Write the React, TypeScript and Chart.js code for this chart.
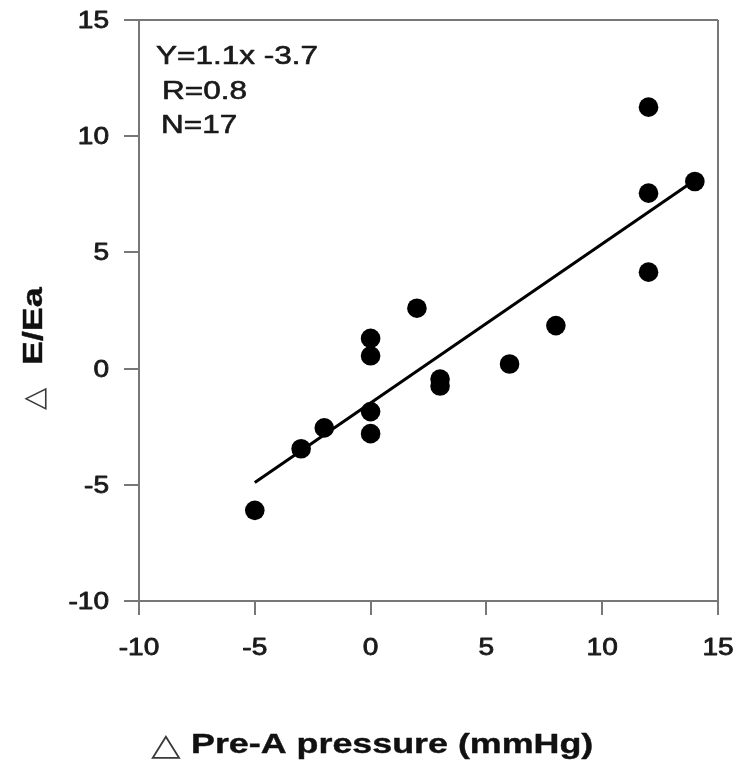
import React, { useEffect, useRef } from "react";
import { Chart, registerables } from "chart.js";

Chart.register(...registerables);

const pressureX = [-5, -3, -2, 0, 0, 0, 0, 2, 3, 3, 6, 8, 12, 12, 12, 14];
const eeaY = [-6.1, -3.45, -2.55, 1.3, 0.55, -1.85, -2.8, 2.6, -0.45, -0.75, 0.2, 1.85, 11.25, 7.55, 4.15, 8.05];
const regLineX = [-5, 13.7];
const regLineY = [-4.9, 7.9];
const xTicks = [-10, -5, 0, 5, 10, 15];
const yTicks = [-10, -5, 0, 5, 10, 15];
const annotationLines = ["Y=1.1x -3.7", "R=0.8", "N=17"];
const xTitleText = "Pre-A pressure (mmHg)";
const yTitleText = "E/Ea";
const deltaGlyph = "\u25B3";

const FONT = "'Liberation Sans', Arial, Helvetica, sans-serif";
const FRAME = "#777777";

function drawText(
  ctx: CanvasRenderingContext2D,
  text: string,
  x: number,
  y: number,
  font: string,
  align: CanvasTextAlign,
  color: string,
  sx: number,
  stroke = 0
) {
  ctx.save();
  ctx.translate(x, y);
  ctx.scale(sx, 1);
  ctx.font = font;
  ctx.fillStyle = color;
  ctx.textAlign = align;
  ctx.textBaseline = "alphabetic";
  ctx.fillText(text, 0, 0);
  if (stroke > 0) {
    ctx.strokeStyle = color;
    ctx.lineWidth = stroke;
    ctx.lineJoin = "round";
    ctx.strokeText(text, 0, 0);
  }
  ctx.restore();
}

const textPlugin = {
  id: "textPlugin",
  afterDraw(chart: any) {
    const ctx: CanvasRenderingContext2D = chart.ctx;
    const xs = chart.scales.x;
    const ys = chart.scales.y;
    const tickFont = `23px ${FONT}`;
    for (const v of xTicks) {
      drawText(ctx, String(v), xs.getPixelForValue(v), 655, tickFont, "center", "#1a1a1a", 1.22, 0.8);
    }
    for (const v of yTicks) {
      drawText(ctx, String(v), 109, ys.getPixelForValue(v) + 8, tickFont, "right", "#1a1a1a", 1.22, 0.8);
    }
    // annotation
    const annFont = `25px ${FONT}`;
    drawText(ctx, annotationLines[0], 156, 64, annFont, "left", "#1a1a1a", 1.26, 0.6);
    drawText(ctx, annotationLines[1], 162, 99, annFont, "left", "#1a1a1a", 1.26, 0.6);
    drawText(ctx, annotationLines[2], 161, 133, annFont, "left", "#1a1a1a", 1.26, 0.6);
    // x title
    drawText(ctx, deltaGlyph, 151, 755, `31px 'DejaVu Sans', sans-serif`, "left", "#3a3a3a", 1.25);
    drawText(ctx, xTitleText, 191, 753, `bold 28px ${FONT}`, "left", "#111111", 1.28, 0.4);
    // y title (rotated)
    ctx.save();
    ctx.translate(43, 0);
    ctx.rotate(-Math.PI / 2);
    drawText(ctx, deltaGlyph, -410, 0, `29px 'DejaVu Sans', sans-serif`, "left", "#3a3a3a", 1.0);
    drawText(ctx, yTitleText, -365, -1, `bold 28px ${FONT}`, "left", "#111111", 1.28, 0.4);
    ctx.restore();
  },
};

export default function App() {
  const ref = useRef<HTMLCanvasElement | null>(null);
  useEffect(() => {
    if (!ref.current) return;
    const chart = new Chart(ref.current, {
      type: "scatter",
      data: {
        datasets: [
          {
            label: "points",
            data: pressureX.map((x, i) => ({ x, y: eeaY[i] })),
            backgroundColor: "#000000",
            borderColor: "#000000",
            pointRadius: 9.8,
            pointHoverRadius: 9.8,
            borderWidth: 0,
          },
          {
            label: "regression",
            data: regLineX.map((x, i) => ({ x, y: regLineY[i] })),
            showLine: true,
            borderColor: "#000000",
            borderWidth: 3,
            pointRadius: 0,
            fill: false,
          },
        ],
      },
      plugins: [textPlugin],
      options: {
        animation: false,
        responsive: false,
        devicePixelRatio: 1,
        layout: { padding: { left: 0, right: 20, top: 20, bottom: 0 } },
        plugins: { legend: { display: false }, tooltip: { enabled: false } },
        scales: {
          x: {
            type: "linear",
            min: -10,
            max: 15,
            afterFit: (s: any) => { s.height = 164; },
            afterBuildTicks: (s: any) => { s.ticks = xTicks.map((v) => ({ value: v })); },
            ticks: { display: false },
            border: { display: true, color: FRAME, width: 2 },
            grid: {
              drawOnChartArea: true,
              drawTicks: true,
              tickLength: 14,
              lineWidth: 2,
              tickColor: FRAME,
              color: (c: any) => (c.tick && c.tick.value === 15 ? FRAME : "rgba(0,0,0,0)"),
            },
          },
          y: {
            type: "linear",
            min: -10,
            max: 15,
            afterFit: (s: any) => { s.width = 139; },
            afterBuildTicks: (s: any) => { s.ticks = yTicks.map((v) => ({ value: v })); },
            ticks: { display: false },
            border: { display: true, color: FRAME, width: 2 },
            grid: {
              drawOnChartArea: true,
              drawTicks: true,
              tickLength: 15,
              lineWidth: 2,
              tickColor: FRAME,
              color: (c: any) => (c.tick && c.tick.value === 15 ? FRAME : "rgba(0,0,0,0)"),
            },
          },
        },
      },
    });
    return () => chart.destroy();
  }, []);
  return (
    <div style={{ position: "absolute", left: 0, top: 0, width: 738, height: 765, background: "#ffffff" }}>
      <canvas ref={ref} width={738} height={765} />
    </div>
  );
}
